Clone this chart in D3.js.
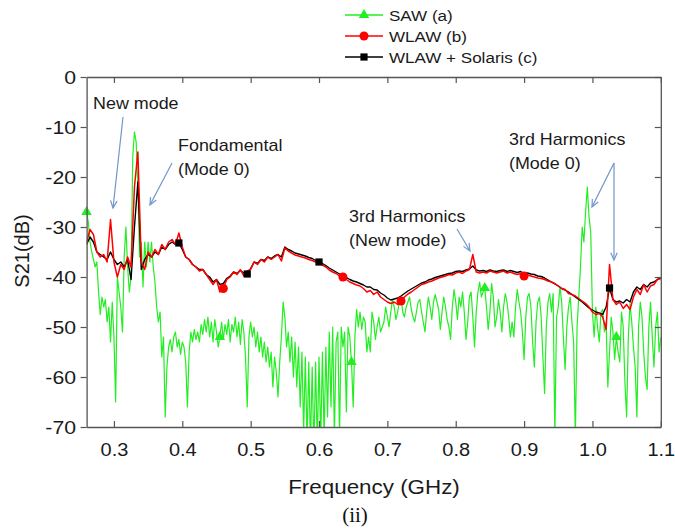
<!DOCTYPE html>
<html><head><meta charset="utf-8">
<script src="https://cdn.jsdelivr.net/npm/d3@7"></script>
<style>body{margin:0;background:#fff;} svg{display:block;}</style>
</head><body><svg id="c" width="675" height="529"></svg>
<script>
// ---------- data ----------
const freqStart = 0.26;
const sawStep = 0.0025;   // GHz between SAW samples
const wlawStep = 0.005;   // GHz between WLAW samples

// SAW (a), S21 in dB, from 0.26 GHz every 0.0025 GHz
const sawValues = [
-27,-29,-33,-35,-36.5,-38,-37,-43,-47.5,-44,
-46,-44.5,-49,-46,-53,-45,-52,-65,-40,-43,
-46,-51,-36,-30,-38,-43,-40,-16,-11,-13,
-22,-36,-33,-42,-33,-38,-33,-37,-33,-38,
-41,-46,-49,-47,-56,-52,-68,-58,-54,-52.5,
-55,-52,-51,-54,-52.5,-55.5,-53,-54,-57,-66,
-55,-51,-53,-50.5,-52.5,-51,-53,-49.5,-51.5,-48.5,
-51,-48,-52,-49,-53,-48.5,-51,-54,-52,-49,
-52.5,-49.5,-51.5,-48.5,-53,-49.5,-51,-48,-52,-49,
-53.5,-48.5,-51,-56,-66,-52,-49,-52,-50,-54,
-51,-55,-52,-56,-53,-57,-54,-58,-55,-62,
-56,-59,-64,-57,-52,-45,-48,-54,-51,-57,
-52,-60,-53,-62,-54,-66,-55,-71,-56,-73,
-57,-74,-58,-75,-57,-74,-56,-73,-55,-72,
-54,-68,-51,-66,-50,-72,-53,-51,-72,-50,
-54,-51,-67,-50,-52,-57,-66,-52,-46.5,-50,
-47,-50.5,-48,-49,-55,-52,-55,-47,-49,-52.5,
-50,-48,-51,-50,-49,-46,-48,-50,-47,-44.5,
-46,-48.5,-47,-45,-44,-47,-48,-46,-45,-44,
-46.5,-48,-49,-47,-45,-44.5,-47,-49,-51,-47,
-44,-46,-48.5,-45,-43.5,-45,-46.5,-50.5,-47,-44,
-46,-48.5,-50,-52.5,-46,-42.5,-45,-48.5,-44,-46,
-43,-47,-52.5,-49,-44,-43,-48,-54,-47,-43,
-41,-44,-43,-42.2,-46,-50.5,-47,-41.3,-44,-50,
-48,-44.5,-47,-51,-46,-43.3,-45,-48,-52,-49,
-52,-46,-42.5,-45,-47,-51,-56.5,-48,-44,-43.3,
-46,-53,-58,-49,-45,-44,-48,-56,-63.3,-50,
-45,-43.3,-47,-43.3,-72,-48,-46,-42,-45,-52,
-58.5,-50,-46,-44,-49,-53,-72,-50,-44,-38,
-30,-33,-27,-22,-28,-31,-47,-52,-46,-50,
-53,-47,-46.5,-51,-49,-62,-55,-48,-51,-56.5,
-52,-55,-57,-47,-50,-61,-68,-52,-45.3,-49,
-54,-58,-68,-50,-45,-48,-55,-60,-62.5,-50,
-45,-52,-58,-50,-47,-55,-52
];

// WLAW (b), from 0.26 GHz every 0.005 GHz
const wlawValues = [
-33,-30.5,-31.5,-35,-36,-35.5,-37,-28.5,-37,-40,
-37.5,-38.5,-36,-38,-22,-15,-37,-38.5,-35,-36,
-34.5,-35.5,-33.5,-34.5,-33,-32.5,-33.5,-31.2,-34,-36,
-36.5,-37.5,-38,-38.8,-38.5,-39.5,-40.5,-41.5,-40.5,-43,
-42.3,-40.5,-40,-39,-39.5,-38.5,-39.8,-38.8,-38.5,-37,
-37.5,-36.5,-37,-36,-36.5,-36,-35.5,-36.8,-34.2,-34.8,
-35.2,-35.6,-35.8,-36,-36.2,-36.5,-36.7,-37,-37.3,-37.6,
-38,-38.6,-39,-39.3,-39.8,-40,-40.5,-41,-41.3,-41.6,
-41.8,-42.3,-43,-42.7,-43.5,-43,-44,-44.5,-45,-45.3,
-45,-45.5,-44.8,-44,-43.4,-43,-42.5,-42,-41.5,-41.3,
-41,-40.8,-40.5,-40.2,-40,-39.8,-39.5,-39.6,-39.2,-39,
-39.3,-38.8,-38.5,-35.5,-39,-39.2,-39,-39.2,-38.8,-39,
-39.2,-39,-38.8,-39.2,-39,-39.3,-39.5,-39.3,-39.8,-39.6,
-39.8,-40,-40.2,-40.3,-40.5,-40.8,-41,-41.3,-41.8,-42.3,
-42.5,-43.3,-43.5,-43.8,-44.3,-44.8,-45.3,-46,-47,-47.5,
-47.3,-48,-50.5,-37.5,-44.5,-45.5,-45,-46.3,-45.5,-46.5,
-44,-42.5,-43.5,-41.5,-43,-41.8,-41.5,-40.5,-40.3
];

// WLAW + Solaris (c), from 0.26 GHz every 0.005 GHz
const solarisValues = [
-33.5,-32,-33,-35,-35.5,-36,-36.5,-35,-36.5,-37.5,
-37,-38,-36.5,-40.5,-30,-21,-38.5,-36.5,-35.5,-36,
-35,-35.5,-34,-34.5,-33.5,-33,-33.5,-33.2,-34.5,-36,
-36.5,-37.5,-38,-38.5,-38.5,-39.5,-40,-41,-40.5,-41.5,
-41.3,-40.3,-39.8,-39,-39.3,-38.7,-39.2,-39.4,-38.3,-37,
-37.3,-36.5,-36.7,-36,-36.3,-35.8,-35.5,-36,-34,-34.5,
-34.8,-35.2,-35.4,-35.6,-35.8,-36.1,-36.3,-36.7,-37,-37.3,
-37.7,-38.2,-38.6,-39,-39.4,-39.7,-40.1,-40.5,-40.8,-41,
-41.3,-41.6,-42,-42,-42.5,-42.6,-43.2,-43.6,-44.2,-44.6,
-44.4,-44.2,-43.8,-43.3,-42.8,-42.4,-42,-41.6,-41.2,-41,
-40.6,-40.4,-40.1,-39.9,-39.7,-39.5,-39.3,-39.2,-38.9,-38.8,
-38.9,-38.6,-38.4,-37.8,-38.6,-38.8,-38.7,-38.9,-38.6,-38.8,
-38.9,-38.7,-38.6,-38.9,-38.7,-38.9,-39.1,-38.9,-39.3,-39.2,
-39.4,-39.5,-39.8,-39.9,-40.2,-40.6,-41,-41.4,-41.8,-42.3,
-42.6,-43,-43.5,-44,-44.5,-45,-45.6,-46.2,-46.6,-47,
-47.2,-47.5,-46,-42.2,-44.5,-45,-44.8,-45.2,-44.5,-45,
-43,-42,-42.5,-41.5,-42,-41.2,-41,-40.5,-40.2
];

// indices of the samples that carry a symbol
const sawMarkerIdx = [0, 78, 155, 233, 310];
const wlawMarkerIdx = [40, 75, 92, 128];
const solarisMarkerIdx = [27, 47, 68, 153];

const xTicks = [0.3,0.4,0.5,0.6,0.7,0.8,0.9,1.0,1.1];
const yTicks = [0,-10,-20,-30,-40,-50,-60,-70];
const seriesNames = ["SAW (a)", "WLAW (b)", "WLAW + Solaris (c)"];
const xTitle = "Frequency (GHz)";
const yTitle = "S21(dB)";
const caption = "(ii)";

// ---------- drawing ----------
const svg = d3.select('#c');
const SX = 1.12;
const FONT = "'Liberation Sans', Arial, sans-serif";
const x = d3.scaleLinear().domain([0.26, 1.1]).range([86.6, 660.8]);
const y = d3.scaleLinear().domain([-70, 0]).range([427, 77]);

function stretch(sel, sx) {
  sel.each(function () {
    const t = d3.select(this);
    const tx = +t.attr('x') || 0, ty = +t.attr('y') || 0;
    t.attr('x', 0).attr('y', 0).attr('transform', `translate(${tx},${ty}) scale(${sx},1)`);
  });
}

const toPts = (vals, step) => vals.map((v, i) => ({ f: freqStart + i * step, v }));
const saw = toPts(sawValues, sawStep);
const wlaw = toPts(wlawValues, wlawStep);
const sol = toPts(solarisValues, wlawStep);

svg.append('defs').append('clipPath').attr('id', 'plot')
  .append('rect').attr('x', x(0.26)).attr('y', y(0))
  .attr('width', x(1.1) - x(0.26)).attr('height', y(-70) - y(0));

const line = d3.line().x(d => x(d.f)).y(d => y(d.v));
const gPlot = svg.append('g').attr('clip-path', 'url(#plot)');

const GREEN = '#22ee22', RED = '#ff0000', BLACK = '#000000';
gPlot.append('path').datum(saw).attr('d', line).attr('fill', 'none')
  .attr('stroke', GREEN).attr('stroke-width', 1.2).attr('stroke-linejoin', 'round');
gPlot.append('path').datum(sol).attr('d', line).attr('fill', 'none')
  .attr('stroke', BLACK).attr('stroke-width', 1.4).attr('stroke-linejoin', 'round');
gPlot.append('path').datum(wlaw).attr('d', line).attr('fill', 'none')
  .attr('stroke', RED).attr('stroke-width', 1.5).attr('stroke-linejoin', 'round');

const triSym = d3.symbol().type(d3.symbolTriangle).size(48);
const circSym = d3.symbol().type(d3.symbolCircle).size(64);
const sqSym = d3.symbol().type(d3.symbolSquare).size(52);

svg.append('g').selectAll('path').data(sawMarkerIdx.map(i => saw[i])).join('path')
  .attr('d', triSym).attr('transform', d => `translate(${x(d.f)},${y(d.v)})`).attr('fill', GREEN);
svg.append('g').selectAll('path').data(solarisMarkerIdx.map(i => sol[i])).join('path')
  .attr('d', sqSym).attr('transform', d => `translate(${x(d.f)},${y(d.v)})`).attr('fill', BLACK);
svg.append('g').selectAll('path').data(wlawMarkerIdx.map(i => wlaw[i])).join('path')
  .attr('d', circSym).attr('transform', d => `translate(${x(d.f)},${y(d.v)})`).attr('fill', RED);

// axes
const AX = '#555';
function styleAxis(g, fs) {
  g.selectAll('.domain').attr('stroke', AX).attr('stroke-width', 1.3);
  g.selectAll('.tick line').attr('stroke', AX).attr('stroke-width', 1.2);
  g.selectAll('.tick text').attr('fill', '#1a1a1a').style('font-family', FONT).style('font-size', fs || '19px');
}
const gB = svg.append('g').attr('transform', `translate(0,${y(-70)})`)
  .call(d3.axisBottom(x).tickValues(xTicks).tickFormat(d => d.toFixed(1)).tickSize(-6).tickSizeOuter(0).tickPadding(16));
styleAxis(gB, '18.5px'); stretch(gB.selectAll('.tick text'), 1.08);
const gT = svg.append('g').attr('transform', `translate(0,${y(0)})`)
  .call(d3.axisTop(x).tickValues(xTicks).tickFormat('').tickSize(-6).tickSizeOuter(0));
styleAxis(gT);
const gL = svg.append('g').attr('transform', `translate(${x(0.26)},0)`)
  .call(d3.axisLeft(y).tickValues(yTicks).tickFormat(d => String(d)).tickSize(6).tickSizeOuter(0).tickPadding(4.5));
styleAxis(gL); stretch(gL.selectAll('.tick text'), SX);
const gR = svg.append('g').attr('transform', `translate(${x(1.1)},0)`)
  .call(d3.axisRight(y).tickValues(yTicks).tickFormat('').tickSize(-6).tickSizeOuter(0));
styleAxis(gR);

// titles
const tx = svg.append('text').attr('x', 374).attr('y', 494).attr('text-anchor', 'middle')
  .style('font-family', FONT).style('font-size', '20px').attr('fill', '#1a1a1a').text(xTitle);
stretch(tx, SX);
svg.append('text').attr('transform', 'translate(29,251) rotate(-90)').attr('text-anchor', 'middle')
  .style('font-family', FONT).style('font-size', '20px').attr('fill', '#1a1a1a').text(yTitle);
svg.append('text').attr('x', 355).attr('y', 522).attr('text-anchor', 'middle')
  .style('font-family', "'Liberation Serif', 'Times New Roman', serif").style('font-size', '21px')
  .attr('fill', '#111').text(caption);

// legend
const legColors = [GREEN, RED, BLACK];
const legSyms = [triSym, circSym, sqSym];
const legY = [15, 36, 57];
seriesNames.forEach((name, k) => {
  const g = svg.append('g');
  g.append('line').attr('x1', 345).attr('x2', 383).attr('y1', legY[k]).attr('y2', legY[k])
    .attr('stroke', legColors[k]).attr('stroke-width', 1.4);
  g.append('path').attr('d', legSyms[k]).attr('transform', `translate(364,${legY[k]})`).attr('fill', legColors[k]);
  const t = g.append('text').attr('x', 389).attr('y', legY[k] + 5.5)
    .style('font-family', FONT).style('font-size', '15.5px').attr('fill', '#1a1a1a').text(name);
  stretch(t, 1.1);
});

// annotations
const noteLines = [
  { x: 93, y: 109, s: 'New mode' },
  { x: 178, y: 151, s: 'Fondamental' },
  { x: 178, y: 175, s: '(Mode 0)' },
  { x: 349, y: 222, s: '3rd Harmonics' },
  { x: 349, y: 246, s: '(New mode)' },
  { x: 509, y: 145, s: '3rd Harmonics' },
  { x: 509, y: 169, s: '(Mode 0)' }
];
noteLines.forEach(n => {
  const t = svg.append('text').attr('x', n.x).attr('y', n.y)
    .style('font-family', FONT).style('font-size', '16px').attr('fill', '#1a1a1a').text(n.s);
  stretch(t, SX);
});

const arrows = [
  [123, 117, 113, 208],
  [172, 163, 150, 205],
  [457, 229, 470, 251],
  [614, 163, 592, 207],
  [614, 163, 614, 260]
];
const ARC = '#7096cb';
arrows.forEach(([x1, y1, x2, y2]) => {
  const g = svg.append('g').attr('stroke', ARC).attr('stroke-width', 1.2).attr('fill', 'none');
  g.append('line').attr('x1', x1).attr('y1', y1).attr('x2', x2).attr('y2', y2);
  const a = Math.atan2(y2 - y1, x2 - x1), L = 8, w = 0.42;
  g.append('polyline').attr('points', [
    [x2 - L * Math.cos(a - w), y2 - L * Math.sin(a - w)],
    [x2, y2],
    [x2 - L * Math.cos(a + w), y2 - L * Math.sin(a + w)]
  ].map(p => p.join(',')).join(' '));
});
</script>
</body></html>
